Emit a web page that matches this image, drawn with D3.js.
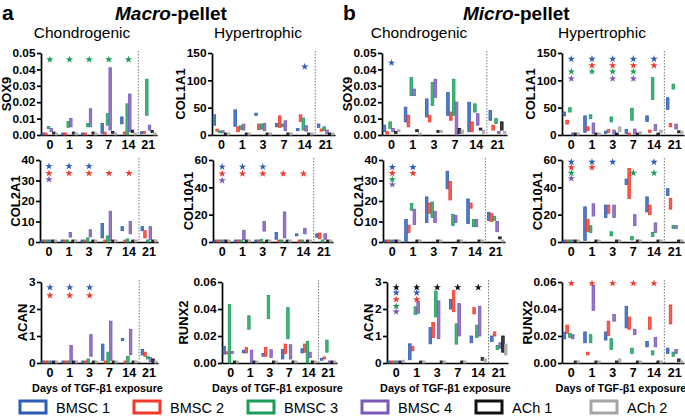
<!DOCTYPE html>
<html><head><meta charset="utf-8">
<script src="https://cdn.jsdelivr.net/npm/d3@7"></script>
<style>body{margin:0;background:#fff} svg{display:block} text{font-family:"Liberation Sans",Arial,sans-serif}</style>
</head><body><svg id="c" width="685" height="420"></svg>
<script>
const days = ["0","1","3","7","14","21"];
const series = ["BMSC 1","BMSC 2","BMSC 3","BMSC 4","ACh 1","ACh 2"];
const colors = ["#2c5db5","#f0392b","#1a9d5a","#7a58b8","#111111","#a5a5a5"];

// each row = one day; each pair = [low, high] for the six series
const macroSOX9 = [
 [[0,0.0006],[0,0.0006],[0.004,0.005],[0.0022,0.004],[0.0006,0.0012],[0,0.0004]],
 [[0,0.0006],[0,0.0008],[0.0047,0.0082],[0.005,0.0102],[0.0006,0.0012],[0,0.0004]],
 [[0,0.0006],[0,0.0006],[0.005,0.007],[0.005,0.016],[0.0006,0.0012],[0,0.0004]],
 [[0.001,0.007],[0.0004,0.0018],[0.006,0.013],[0.003,0.041],[0.001,0.002],[0,0.0006]],
 [[0.0068,0.011],[0.0006,0.0018],[0,0.019],[0.002,0.025],[0.0015,0.003],[0,0.0006]],
 [[0.0008,0.0018],[0.001,0.002],[0.012,0.034],[0.003,0.006],[0.0015,0.0025],[0,0.0006]]];
const macroCOL1A1 = [
 [[18,37],[7,10],[4,6],[4,6],[0,1.2],[0,0.8]],
 [[16,46],[6,15],[10,17],[9,20],[0,1.2],[0,0.8]],
 [[36,40],[10,20],[11,20],[8,21],[0,1.2],[0,0.8]],
 [[15,21],[14,35],[15,20],[8,26],[0,1.2],[0,0.8]],
 [[8,10],[25,37],[9,31],[7,17],[0,1.2],[0,0.8]],
 [[14,20],[7,11],[8,15],[2,9],[0,3],[0,0.8]]];
const macroCOL2A1 = [
 [[0,0.3],[0,0.3],[0,0.5],[0,0.3],[0,0.2],[0,0.2]],
 [[0,0.3],[0,0.3],[0,0.3],[2.4,4.6],[0,0.2],[0,0.2]],
 [[0,0.3],[0,0.3],[0,2],[2.5,6],[0,0.2],[0,0.2]],
 [[2,9],[0,0.3],[0,3],[0.8,15],[0,0.2],[0,0.2]],
 [[5.5,7.5],[0,0.3],[0,1.5],[4,10],[0,0.2],[0,0.2]],
 [[5.5,7.5],[2,5.5],[0,1],[1,7.5],[0,0.5],[0,0.2]]];
const macroCOL10A1 = [
 [[0,0.4],[0,0.4],[0,0.6],[0,0.4],[0,0.3],[0,0.3]],
 [[0,0.4],[0,0.4],[0,0.6],[1.5,8.6],[0,0.3],[0,0.3]],
 [[0,0.4],[0,0.4],[0,2],[8,15],[0,0.3],[0,0.3]],
 [[2,7],[0,0.4],[0,1],[3,22],[0,0.3],[0,0.3]],
 [[4.5,6],[0,0.4],[0,1],[6,10],[0,0.3],[0,0.3]],
 [[3.5,6],[2.5,6.5],[0,1],[2,6],[0,0.5],[0,0.3]]];
const macroACAN = [
 [[0,0.02],[0,0.02],[0,0.03],[0,0.02],[0,0.01],[0,0.01]],
 [[0,0.02],[0,0.02],[0,0.03],[0,0.65],[0,0.01],[0,0.01]],
 [[0,0.03],[0,0.03],[0,0.15],[0.25,1.05],[0,0.01],[0,0.01]],
 [[0.1,0.7],[0,0.03],[0,0.4],[0.1,1.55],[0,0.01],[0,0.01]],
 [[0.83,0.9],[0,0.05],[0,0.25],[0.3,1.25],[0,0.02],[0,0.01]],
 [[0.3,0.5],[0.25,0.4],[0.15,0.25],[0.05,0.2],[0.02,0.15],[0,0.01]]];
const macroRUNX2 = [
 [[0.0066,0.0122],[0.0068,0.0078],[0,0.0433],[0.007,0.008],[0,0.0005],[0,0.0003]],
 [[0.0075,0.0095],[0.0075,0.0115],[0.025,0.035],[0,0.0095],[0,0.0005],[0,0.0003]],
 [[0.005,0.007],[0.005,0.0115],[0.033,0.05],[0.004,0.0098],[0,0.0005],[0,0.0003]],
 [[0.003,0.01],[0.007,0.014],[0.018,0.041],[0.003,0.0135],[0,0.0005],[0,0.0003]],
 [[0.0075,0.0105],[0.008,0.014],[0,0.016],[0.004,0.008],[0,0.0005],[0,0.0003]],
 [[0.002,0.003],[0.003,0.004],[0.008,0.017],[0,0.0015],[0,0.001],[0,0.0003]]];
const microSOX9 = [
 [[0.002,0.006],[0.0005,0.002],[0.004,0.008],[0.002,0.004],[0.001,0.002],[0.002,0.003]],
 [[0.008,0.017],[0.005,0.012],[0.024,0.035],[0.024,0.028],[0.002,0.003],[0,0.001]],
 [[0.011,0.022],[0.008,0.012],[0.018,0.032],[0.023,0.034],[0.0015,0.0025],[0.0015,0.0025]],
 [[0.012,0.026],[0.009,0.014],[0.012,0.034],[0,0.020],[0.001,0.004],[0.001,0.003]],
 [[0.002,0.02],[0.002,0.008],[0.014,0.019],[0.006,0.013],[0.003,0.004],[0.001,0.003]],
 [[0.009,0.015],[0.003,0.006],[0.007,0.010],[0.001,0.002],[0.003,0.008],[0.001,0.002]]];
const microCOL1A1 = [
 [[35,42],[20,27],[42,50],[0,3],[0,0.8],[0,1]],
 [[5,35],[8,15],[30,37],[3,22],[0,1],[0,2]],
 [[3,7],[5,10],[24,33],[2,9],[0,1],[6,15]],
 [[3,10],[0,3],[27,49],[2,11],[0,1],[2,4]],
 [[25,35],[5,9],[65,105],[8,19],[0,1],[4,9]],
 [[47,68],[15,21],[84,93],[11,20],[4,6],[3,7]]];
const microCOL2A1 = [
 [[0,0.3],[0,0.3],[0,0.3],[0,0.3],[0,0.2],[0,0.2]],
 [[0,11],[4.6,8.2],[15.5,18.8],[8.5,16],[0,0.2],[0,0.2]],
 [[9.5,22],[14,19],[12,19.5],[9.5,15],[0,0.2],[0,0.2]],
 [[26,34.5],[20.5,29.5],[8,13.5],[9.5,13],[0,0.2],[0,0.2]],
 [[9,21],[16.5,19],[7.5,11],[7.5,11],[0,0.2],[0,0.2]],
 [[10.5,14.5],[10,14],[10.5,12.5],[5,10],[1.5,2.5],[0,0.3]]];
const microCOL10A1 = [
 [[0,0.4],[0,0.4],[0,0.4],[0,0.4],[0,0.3],[0,0.3]],
 [[1.2,25.7],[7.8,16.6],[7,12],[19,28],[0,0.3],[0,0.3]],
 [[18,27],[21,27],[4.5,7.5],[18,27],[0,0.3],[0,0.3]],
 [[42,46],[31.8,53.8],[1.5,4],[12,20],[0,0.3],[0,0.3]],
 [[22,33],[20,27],[4,7],[7,14],[0,0.3],[0,0.3]],
 [[34,39],[24,32],[10,12],[10,12],[0,0.3],[0,0.3]]];
const microACAN = [
 [[0,0.02],[0,0.02],[0,0.02],[0,0.02],[0,0.02],[0.03,0.1]],
 [[0.12,0.71],[0.45,0.62],[1.8,2.08],[1.84,2.29],[0,0.02],[0,0.06]],
 [[0.71,1.31],[0.94,1.5],[1.71,2.66],[0.9,2.3],[0,0.02],[0,0.06]],
 [[2.0,2.35],[1.9,2.69],[0.7,1.45],[1.0,2.2],[0,0.06],[0,0.06]],
 [[0.75,1.0],[1.82,2.05],[0.95,1.4],[1.0,2.1],[0.1,0.2],[0.05,0.15]],
 [[0.8,1.0],[1.0,1.15],[0.5,0.65],[0.55,0.75],[0.4,1.0],[0.3,0.7]]];
const microRUNX2 = [
 [[0.0179,0.0228],[0.022,0.028],[0.019,0.022],[0.018,0.021],[0,0.0004],[0,0.0004]],
 [[0.015,0.023],[0.006,0.008],[0.015,0.021],[0.039,0.0575],[0,0.0004],[0,0.0004]],
 [[0.017,0.023],[0.0203,0.031],[0.01,0.018],[0.031,0.036],[0,0.0004],[0.001,0.003]],
 [[0.026,0.042],[0.025,0.034],[0.007,0.011],[0.021,0.025],[0,0.0004],[0,0.0006]],
 [[0.012,0.016],[0.025,0.034],[0.006,0.009],[0.012,0.019],[0,0.0004],[0,0.0006]],
 [[0.007,0.011],[0.029,0.043],[0.005,0.008],[0.007,0.01],[0.001,0.003],[0,0.0006]]];

// significance stars: series index, height, days
const macroSOX9Stars = [{s:2,v:0.046,d:["0","1","3","7","14"]}];
const macroCOL1A1Stars = [{s:0,v:125,d:["14"]}];
const macroCOL2A1Stars = [{s:0,v:37,d:["0","1","3"]},{s:1,v:33.5,d:["0","1","3","7","14"]},{s:3,v:30.5,d:["0"]}];
const macroCOL10A1Stars = [{s:0,v:55,d:["0","1","3"]},{s:1,v:50,d:["0","1","3","7","14"]},{s:3,v:45,d:["0"]}];
const macroACANStars = [{s:0,v:2.8,d:["0","1","3"]},{s:1,v:2.5,d:["0","1","3"]}];
const macroRUNX2Stars = [];
const microSOX9Stars = [{s:0,v:0.044,d:["0"]}];
const microCOL1A1Stars = [{s:0,v:139,d:["0","1","3","7","14"]},{s:1,v:127,d:["1","3","7","14"]},{s:2,v:116,d:["0","1","3","7"]},{s:3,v:103,d:["0","3","7"]}];
const microCOL2A1Stars = [{s:0,v:36.5,d:["0","1"]},{s:1,v:33.5,d:["0","1"]},{s:2,v:30.5,d:["0"]},{s:3,v:28,d:["0"]}];
const microCOL10A1Stars = [{s:0,v:58.5,d:["0","1","3","14"]},{s:1,v:54.5,d:["0","1"]},{s:2,v:50.5,d:["0","7","14"]},{s:3,v:46.5,d:["0"]}];
const microACANStars = [{s:4,v:2.8,d:["0","1","3","7","14"]},{s:0,v:2.6,d:["0","1"]},{s:1,v:2.35,d:["0","1"]},{s:2,v:2.1,d:["0"]},{s:3,v:1.9,d:["0"]}];
const microRUNX2Stars = [{s:1,v:0.059,d:["0","1","3","7","14"]}];

const sox9Ticks = [0,0.01,0.02,0.03,0.04,0.05];
const col1Ticks = [0,50,100,150];
const col2Ticks = [0,10,20,30,40];
const col10Ticks = [0,20,40,60];
const acanTicks = [0,1,2,3];
const runx2Ticks = [0,0.02,0.04,0.06];

const rows = [[53,135],[160,242],[282,363]];
const panels = [
 {gene:"SOX9",data:macroSOX9,stars:macroSOX9Stars,ticks:sox9Ticks,fmt:".2f",x0:41,x1:157,r:0,lx:12},
 {gene:"COL2A1",data:macroCOL2A1,stars:macroCOL2A1Stars,ticks:col2Ticks,fmt:"d",x0:40,x1:158,r:1,lx:21},
 {gene:"ACAN",data:macroACAN,stars:macroACANStars,ticks:acanTicks,fmt:"d",x0:41,x1:158,r:2,lx:25},
 {gene:"COL1A1",data:macroCOL1A1,stars:macroCOL1A1Stars,ticks:col1Ticks,fmt:"d",x0:212,x1:335,r:0,lx:188},
 {gene:"COL10A1",data:macroCOL10A1,stars:macroCOL10A1Stars,ticks:col10Ticks,fmt:"d",x0:213,x1:333,r:1,lx:193},
 {gene:"RUNX2",data:macroRUNX2,stars:macroRUNX2Stars,ticks:runx2Ticks,fmt:".2f",x0:222,x1:337,r:2,lx:183},
 {gene:"SOX9",data:microSOX9,stars:microSOX9Stars,ticks:sox9Ticks,fmt:".2f",x0:382,x1:507,r:0,lx:354},
 {gene:"COL2A1",data:microCOL2A1,stars:microCOL2A1Stars,ticks:col2Ticks,fmt:"d",x0:383,x1:505,r:1,lx:363},
 {gene:"ACAN",data:microACAN,stars:microACANStars,ticks:acanTicks,fmt:"d",x0:387,x1:508,r:2,lx:370},
 {gene:"COL1A1",data:microCOL1A1,stars:microCOL1A1Stars,ticks:col1Ticks,fmt:"d",x0:562,x1:684,r:0,lx:530},
 {gene:"COL10A1",data:microCOL10A1,stars:microCOL10A1Stars,ticks:col10Ticks,fmt:"d",x0:562,x1:684,r:1,lx:543},
 {gene:"RUNX2",data:microRUNX2,stars:microRUNX2Stars,ticks:runx2Ticks,fmt:".2f",x0:562,x1:684,r:2,lx:533}
];

const svg = d3.select("#c");
const FONT = '"Liberation Sans",Arial,sans-serif';

panels.forEach(p => {
  const [top,bottom] = rows[p.r];
  const W = p.x1 - p.x0;
  const g = svg.append("g").attr("transform",`translate(${p.x0},0)`);
  const x = d3.scaleBand().domain(days).range([0,W]).paddingInner(0.2).paddingOuter(0.05);
  const xs = d3.scaleBand().domain(d3.range(series.length)).range([0,x.bandwidth()]).paddingInner(0.08);
  const y = d3.scaleLinear().domain([0,p.ticks[p.ticks.length-1]]).range([bottom,top]);

  const dx = (x("14") + x.bandwidth() + x("21"))/2;
  g.append("line").attr("x1",dx).attr("x2",dx).attr("y1",top-2).attr("y2",bottom)
    .attr("stroke","#777").attr("stroke-width",1).attr("stroke-dasharray","1.5,1.5");

  const ya = d3.axisLeft(y).tickValues(p.ticks).tickFormat(d3.format(p.fmt)).tickSize(4).tickSizeOuter(0).tickPadding(1.5);
  const yg = g.append("g").call(ya);
  const xa = d3.axisBottom(x).tickSize(0).tickSizeOuter(0).tickPadding(5);
  const xg = g.append("g").attr("transform",`translate(0,${bottom})`).call(xa);
  [yg,xg].forEach(a=>{
    a.selectAll("path,line").attr("stroke","#000").attr("stroke-width",1.7);
    a.selectAll("text").attr("font-family",FONT).attr("font-weight","bold").attr("fill","#000");
  });
  yg.selectAll("text").attr("font-size",11.8);
  xg.selectAll("text").attr("font-size",12.5);

  p.data.forEach((dayVals,i) => {
    dayVals.forEach((r,s) => {
      const y1 = y(r[1]), y0 = y(r[0]);
      const h = Math.max(2, y0 - y1);
      g.append("rect")
        .attr("x", x(days[i]) + xs(s)).attr("width", xs.bandwidth())
        .attr("y", y0 - h).attr("height", h)
        .attr("fill", d3.interpolateRgb(colors[s],"#fff")(0.2))
        .attr("stroke", colors[s]).attr("stroke-width",0.8);
    });
  });

  const star = d3.symbol().type(d3.symbolStar).size(17);
  p.stars.forEach(st => st.d.forEach(d => {
    g.append("path").attr("d",star)
      .attr("transform",`translate(${x(d)+x.bandwidth()/2},${y(st.v)})`)
      .attr("fill",colors[st.s]);
  }));

  // keep the gene label clear of the tick labels
  const tickLeft = p.x0 + yg.node().getBBox().x;
  const lx = Math.min(p.lx, tickLeft - 6);
  svg.append("text").attr("transform",`translate(${lx},${(top+bottom)/2}) rotate(-90)`)
    .attr("text-anchor","middle").attr("dominant-baseline","central")
    .attr("font-weight","bold").attr("font-size",13).text(p.gene);

  if (p.r === 2) {
    svg.append("text").attr("x",p.x0 + W/2 - 2).attr("y",392).attr("text-anchor","middle")
      .attr("font-weight","bold").attr("font-size",10.8).text("Days of TGF-\u03b21 exposure");
  }
});

// headers
svg.append("text").attr("x",2).attr("y",19.5).attr("font-weight","bold").attr("font-size",21).text("a");
svg.append("text").attr("x",343).attr("y",19.5).attr("font-weight","bold").attr("font-size",21).text("b");
const h1 = svg.append("text").attr("x",115).attr("y",20).attr("font-weight","bold").attr("font-size",19);
h1.append("tspan").attr("font-style","italic").text("Macro");
h1.append("tspan").text("-pellet");
const h2 = svg.append("text").attr("x",463).attr("y",20).attr("font-weight","bold").attr("font-size",19);
h2.append("tspan").attr("font-style","italic").text("Micro");
h2.append("tspan").text("-pellet");
[["Chondrogenic",82],["Hypertrophic",258],["Chondrogenic",419],["Hypertrophic",602]].forEach(([t,cx])=>{
  svg.append("text").attr("x",cx).attr("y",38).attr("text-anchor","middle").attr("font-size",15.5).text(t);
});

// legend
const lx = [20,134,248,362,476,591];
series.forEach((s,i)=>{
  svg.append("rect").attr("x",lx[i]).attr("y",401).attr("width",26).attr("height",12)
    .attr("fill","#fff").attr("stroke",colors[i]).attr("stroke-width",3);
  svg.append("text").attr("x",lx[i]+36).attr("y",412.5).attr("font-size",14.5).text(s);
});
</script></body></html>
